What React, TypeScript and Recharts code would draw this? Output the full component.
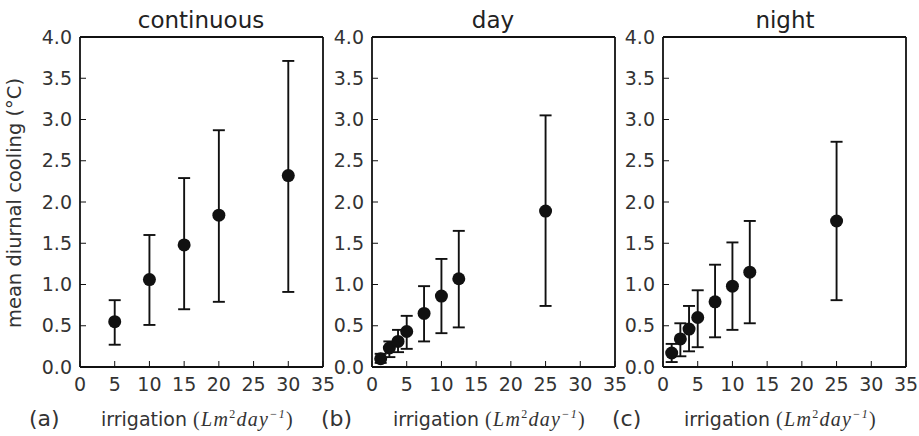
import React from "react"
import { ErrorBar, Scatter, ScatterChart, XAxis, YAxis } from "recharts"

const xTicks = [0, 5, 10, 15, 20, 25, 30, 35]
const yTicks = [0, 0.5, 1, 1.5, 2, 2.5, 3, 3.5, 4]

// continuous irrigation
const contX = [5, 10, 15, 20, 30]
const contMean = [0.55, 1.06, 1.48, 1.84, 2.32]
const contLow = [0.27, 0.51, 0.7, 0.79, 0.91]
const contHigh = [0.81, 1.6, 2.29, 2.87, 3.71]

// day irrigation
const dayX = [1.25, 2.5, 3.75, 5, 7.5, 10, 12.5, 25]
const dayMean = [0.1, 0.23, 0.31, 0.43, 0.65, 0.86, 1.07, 1.89]
const dayLow = [0.05, 0.12, 0.18, 0.22, 0.31, 0.41, 0.48, 0.74]
const dayHigh = [0.16, 0.31, 0.45, 0.62, 0.98, 1.31, 1.65, 3.05]

// night irrigation
const nightX = [1.25, 2.5, 3.75, 5, 7.5, 10, 12.5, 25]
const nightMean = [0.17, 0.34, 0.46, 0.6, 0.79, 0.98, 1.15, 1.77]
const nightLow = [0.06, 0.13, 0.19, 0.24, 0.36, 0.45, 0.53, 0.81]
const nightHigh = [0.28, 0.53, 0.74, 0.93, 1.24, 1.51, 1.77, 2.73]

const FONT = "'DejaVu Sans', sans-serif"
const tickStyle = { fill: "#333", fontSize: 19, fontFamily: FONT }
const frame = { stroke: "#111", strokeWidth: 1.8 }

const Dot = (props: any) => <circle cx={props.cx} cy={props.cy} r={6.5} fill="#111" />
const NoDot = () => null

// plot area: 243 x 330, starting at (plotLeft, 37)
const Panel = ({ plotLeft, xs, means, lows, highs }) => {
    const data = xs.map((x, i) => ({ x, y: means[i], err: [means[i] - lows[i], highs[i] - means[i]] }))
    return (
        <div style={{ position: "absolute", left: plotLeft - 50, top: 0 }}>
            <ScatterChart width={313} height={436} margin={{ top: 36, right: 19, bottom: 39, left: 10 }}>
                <XAxis type="number" dataKey="x" domain={[0, 35]} ticks={xTicks} interval={0}
                    tickSize={-6} tickMargin={17} height={30} tick={tickStyle}
                    stroke="#111" axisLine={frame} />
                <XAxis xAxisId="top" orientation="top" type="number" dataKey="x" domain={[0, 35]} ticks={xTicks}
                    interval={0} tick={false} tickSize={-6} height={1} stroke="#111" axisLine={frame} />
                <YAxis type="number" dataKey="y" domain={[0, 4]} ticks={yTicks} interval={0}
                    tickFormatter={(v) => v.toFixed(1)} width={40} tickSize={-6} tickMargin={14}
                    tick={tickStyle} stroke="#111" axisLine={frame} />
                <YAxis yAxisId="right" orientation="right" type="number" dataKey="y" domain={[0, 4]} ticks={yTicks}
                    interval={0} tick={false} tickSize={-6} width={1} stroke="#111" axisLine={frame} />
                <Scatter data={data} xAxisId="top" yAxisId="right" shape={NoDot} isAnimationActive={false} />
                <Scatter data={data} shape={Dot} isAnimationActive={false}>
                    <ErrorBar dataKey="err" direction="y" width={6} stroke="#111" strokeWidth={1.9} />
                </Scatter>
            </ScatterChart>
        </div>
    )
}

const Title = ({ center, text }) => (
    <div style={{ position: "absolute", left: center - 100, width: 200, top: 6, textAlign: "center",
        fontFamily: FONT, fontSize: 23, color: "#222", lineHeight: "28px" }}>{text}</div>
)

const XLabel = ({ plotLeft, tag }) => (
    <>
        <div style={{ position: "absolute", left: plotLeft - 51, top: 407, lineHeight: "24px",
            fontFamily: FONT, fontSize: 22, color: "#333" }}>{tag}</div>
        <div style={{ position: "absolute", left: plotLeft + 21, top: 407, lineHeight: "24px",
            whiteSpace: "nowrap", color: "#333" }}>
            <span style={{ fontFamily: FONT, fontSize: 19 }}>irrigation </span>
            <span style={{ fontFamily: "'Liberation Serif', serif", fontSize: 20, letterSpacing: 1.3 }}>
                (<i>Lm</i><sup style={{ fontSize: 12, lineHeight: 0 }}>2</sup><i>day</i>
                <sup style={{ fontSize: 12, lineHeight: 0 }}><i>−1</i></sup>)
            </span>
        </div>
    </>
)

export default function App() {
    return (
        <div style={{ position: "absolute", left: 0, top: 0, width: 919, height: 436, background: "#fff" }}>
            <Panel plotLeft={80} xs={contX} means={contMean} lows={contLow} highs={contHigh} />
            <Panel plotLeft={372} xs={dayX} means={dayMean} lows={dayLow} highs={dayHigh} />
            <Panel plotLeft={663} xs={nightX} means={nightMean} lows={nightLow} highs={nightHigh} />
            <Title center={201} text="continuous" />
            <Title center={493} text="day" />
            <Title center={785} text="night" />
            <div style={{ position: "absolute", left: 14, top: 203, width: 0, height: 0 }}>
                <div style={{ position: "absolute", transform: "translate(-50%, -50%) rotate(-90deg)",
                    whiteSpace: "nowrap", fontFamily: FONT, fontSize: 19.5, color: "#333" }}>
                    mean diurnal cooling (°C)
                </div>
            </div>
            <XLabel plotLeft={80} tag="(a)" />
            <XLabel plotLeft={372} tag="(b)" />
            <XLabel plotLeft={663} tag="(c)" />
        </div>
    )
}
